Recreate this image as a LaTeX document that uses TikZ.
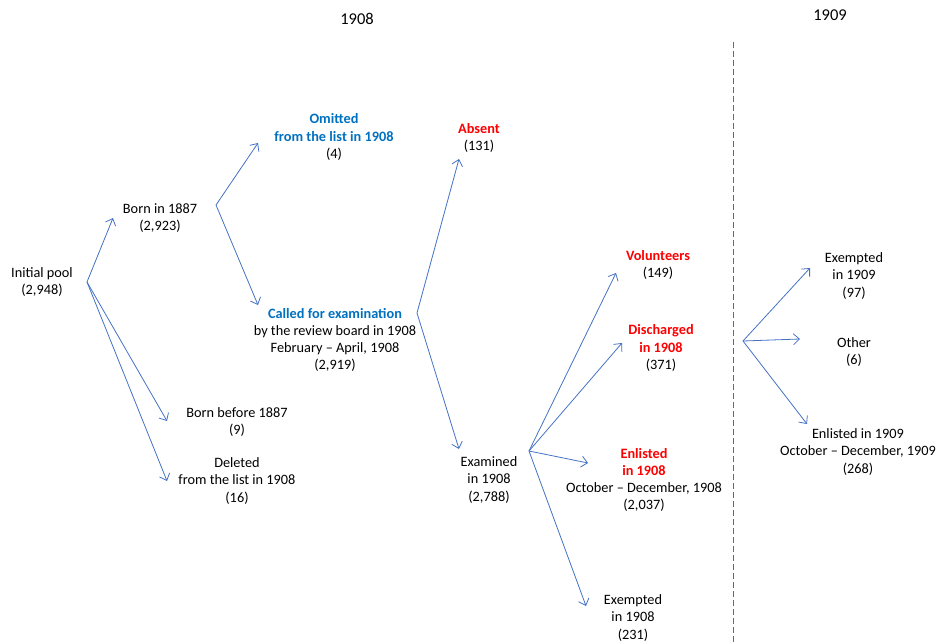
\documentclass[tikz,border=0pt]{standalone}
\usepackage{fontspec}
\setmainfont{Carlito}
\usetikzlibrary{arrows.meta}
\definecolor{arrowblue}{HTML}{4472C4}
\definecolor{dashblue}{HTML}{2E75C6}
\definecolor{hblue}{HTML}{0070C0}
\definecolor{hred}{HTML}{FF0000}
\newcommand{\hb}[1]{\textcolor{hblue}{\textbf{#1}}}
\newcommand{\hr}[1]{\textcolor{hred}{\textbf{#1}}}
\begin{document}
\begin{tikzpicture}[x=1pt,y=-1pt,
  lbl/.style={align=center, font=\fontsize{14.3}{17.3}\selectfont, inner sep=0pt, text=black},
  ttl/.style={font=\fontsize{16.5}{19}\selectfont, inner sep=0pt},
  arr/.style={draw=arrowblue, line width=0.8pt, -{Straight Barb[length=6pt,width=11pt,line width=0.8pt]}}]
\useasboundingbox (0,0) rectangle (938,642);
% titles
\node[ttl] (t1908) at (357,19) {1908};
\node[ttl] (t1909) at (830,15) {1909};
% dashed divider
\coordinate (dtop) at (733,42);
\coordinate (dbot) at (733,642);
\draw[dashblue, line width=1pt, dash pattern=on 6pt off 3pt] (dtop) -- (dbot);
% nodes
\node[lbl] (init) at (42,282) {Initial pool\\(2,948)};
\node[lbl] (b1887) at (160,218) {Born in 1887\\(2,923)};
\node[lbl] (omit) at (334,137) {\hb{Omitted}\\\hb{from the list in 1908}\\(4)};
\node[lbl] (called) at (335,340) {\hb{Called for examination}\\by the review board in 1908\\February -- April, 1908\\(2,919)};
\node[lbl] (before) at (237,422) {Born before 1887\\(9)};
\node[lbl] (deleted) at (237,481) {Deleted\\from the list in 1908\\(16)};
\node[lbl] (absent) at (479,138) {\hr{Absent}\\(131)};
\node[lbl] (exam) at (489,480) {Examined\\in 1908\\(2,788)};
\node[lbl] (vol) at (658,265) {\hr{Volunteers}\\(149)};
\node[lbl] (disch) at (661,348) {\hr{Discharged}\\\hr{in 1908}\\(371)};
\node[lbl] (enl08) at (644,480) {\hr{Enlisted}\\\hr{in 1908}\\October -- December, 1908\\(2,037)};
\node[lbl] (exm08) at (633,618) {Exempted\\in 1908\\(231)};
\node[lbl] (exm09) at (854,276) {Exempted\\in 1909\\(97)};
\node[lbl] (other) at (854,352) {Other\\(6)};
\node[lbl] (enl09) at (858,452) {Enlisted in 1909\\October -- December, 1909\\(268)};
% branch points and arrow ends
\coordinate (p0) at (87,282);
\coordinate (p0a) at (113,218);
\coordinate (p0b) at (167,421);
\coordinate (p0c) at (167,481);
\coordinate (p1) at (216,205);
\coordinate (p1a) at (258,143);
\coordinate (p1b) at (258,305);
\coordinate (p2) at (417,313);
\coordinate (p2a) at (459,159);
\coordinate (p2b) at (459,449);
\coordinate (p3) at (529,451);
\coordinate (p3a) at (616,273);
\coordinate (p3b) at (622,343);
\coordinate (p3c) at (588,463);
\coordinate (p3d) at (586,606);
\coordinate (p4) at (743,341);
\coordinate (p4a) at (810,268);
\coordinate (p4b) at (800,339);
\coordinate (p4c) at (807,424);
% arrows
\draw[arr] (p0) -- (p0a);
\draw[arr] (p0) -- (p0b);
\draw[arr] (p0) -- (p0c);
\draw[arr] (p1) -- (p1a);
\draw[arr] (p1) -- (p1b);
\draw[arr] (p2) -- (p2a);
\draw[arr] (p2) -- (p2b);
\draw[arr] (p3) -- (p3a);
\draw[arr] (p3) -- (p3b);
\draw[arr] (p3) -- (p3c);
\draw[arr] (p3) -- (p3d);
\draw[arr] (p4) -- (p4a);
\draw[arr] (p4) -- (p4b);
\draw[arr] (p4) -- (p4c);
\end{tikzpicture}
\end{document}
